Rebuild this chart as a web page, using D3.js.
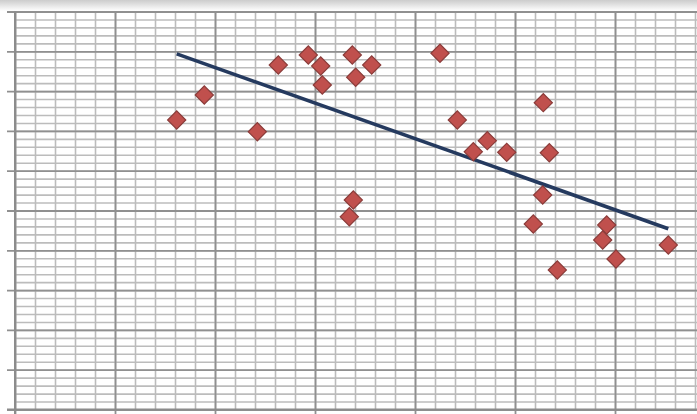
<!DOCTYPE html>
<html>
<head>
<meta charset="utf-8">
<script src="https://cdn.jsdelivr.net/npm/d3@7"></script>
<style>
  html, body { margin: 0; padding: 0; background: #fff; }
  svg { display: block; }
</style>
</head>
<body>
<svg id="chart" width="697" height="414"></svg>
<script>
// Data
const xValues = [1.617, 1.893, 2.423, 2.633, 2.933, 3.057, 3.073, 3.373, 3.407, 3.567,
                 3.383, 3.343, 4.25, 4.423, 4.583, 4.723, 4.917, 5.283, 5.343, 5.277,
                 5.183, 5.423, 5.917, 5.877, 6.01, 6.533];
const yValues = [7.274, 7.902, 6.980, 8.656, 8.907, 8.631, 8.153, 8.907, 8.347, 8.656,
                 5.264, 4.844, 8.950, 7.274, 6.477, 6.754, 6.462, 7.709, 6.452, 5.389,
                 4.661, 3.505, 4.636, 4.259, 3.781, 4.133];
const xMajorTicks = [0, 1, 2, 3, 4, 5, 6, 7];
const yMajorTicks = [0, 1, 2, 3, 4, 5, 6, 7, 8, 9, 10];
const xMinorTicks = d3.range(0, 7.001, 0.2);
const yMinorTicks = d3.range(0, 10.001, 0.2);

(function () {
const svg = d3.select("#chart");
const W = 697, H = 414;

// top shading
const defs = svg.append("defs");
const grad = defs.append("linearGradient").attr("id", "topShade")
  .attr("x1", 0).attr("y1", 0).attr("x2", 0).attr("y2", 1);
grad.append("stop").attr("offset", "0%").attr("stop-color", "#cccccc");
grad.append("stop").attr("offset", "100%").attr("stop-color", "#ffffff");
svg.append("rect").attr("x", 0).attr("y", 0).attr("width", W).attr("height", 11)
  .attr("fill", "url(#topShade)");

const x = d3.scaleLinear().domain([0, 7]).range([15, 715]);
const y = d3.scaleLinear().domain([0, 10]).range([409.5, 11.5]);
const pTop = y(10), pBottom = y(0), pLeft = x(0), pRight = x(7);

// minor gridlines
const gMinorY = svg.append("g").attr("transform", `translate(${pLeft},0)`)
  .call(d3.axisLeft(y).tickValues(yMinorTicks).tickSize(-(pRight - pLeft)).tickFormat(""));
gMinorY.select(".domain").remove();
gMinorY.selectAll(".tick line").attr("stroke", "#bcbcbc").attr("stroke-width", 1.6);

const gMinorX = svg.append("g").attr("transform", `translate(0,${pBottom})`)
  .call(d3.axisBottom(x).tickValues(xMinorTicks).tickSize(-(pBottom - pTop)).tickFormat(""));
gMinorX.select(".domain").remove();
gMinorX.selectAll(".tick line").attr("stroke", "#bcbcbc").attr("stroke-width", 1.6);

// major gridlines (with outer tick marks)
const gMajorY = svg.append("g").attr("transform", `translate(${pLeft},0)`)
  .call(d3.axisLeft(y).tickValues(yMajorTicks).tickSizeInner(-(pRight - pLeft)).tickSizeOuter(0).tickFormat(""));
gMajorY.select(".domain").remove();
gMajorY.selectAll(".tick line").attr("stroke", "#909090").attr("stroke-width", 1.8).attr("x1", -8);

const gMajorX = svg.append("g").attr("transform", `translate(0,${pBottom})`)
  .call(d3.axisBottom(x).tickValues(xMajorTicks).tickSizeInner(-(pBottom - pTop)).tickSizeOuter(0).tickFormat(""));
gMajorX.select(".domain").remove();
gMajorX.selectAll(".tick line").attr("stroke", "#909090").attr("stroke-width", 1.8).attr("y1", 6);

// axis lines
svg.append("line").attr("x1", pLeft).attr("x2", pLeft).attr("y1", pTop).attr("y2", pBottom + 6)
  .attr("stroke", "#8c8c8c").attr("stroke-width", 2);
svg.append("line").attr("x1", pLeft - 8).attr("x2", pRight).attr("y1", pBottom).attr("y2", pBottom)
  .attr("stroke", "#8c8c8c").attr("stroke-width", 2);

// points
const pts = xValues.map((v, i) => ({ x: v, y: yValues[i] }));

// linear trend line (least squares)
const mx = d3.mean(pts, d => d.x), my = d3.mean(pts, d => d.y);
const sxy = d3.sum(pts, d => (d.x - mx) * (d.y - my));
const sxx = d3.sum(pts, d => (d.x - mx) * (d.x - mx));
const slope = sxy / sxx, intercept = my - slope * mx;
const [xmin, xmax] = d3.extent(pts, d => d.x);
const trend = [{ x: xmin, y: intercept + slope * xmin }, { x: xmax, y: intercept + slope * xmax }];

svg.append("path").datum(trend)
  .attr("d", d3.line().x(d => x(d.x)).y(d => y(d.y)))
  .attr("fill", "none").attr("stroke", "#253a5f").attr("stroke-width", 3.6);

svg.append("g").selectAll("path").data(pts).join("path")
  .attr("d", d3.symbol().type(d3.symbolSquare).size(165))
  .attr("transform", d => `translate(${x(d.x)},${y(d.y)}) rotate(45)`)
  .attr("fill", "#c0504d").attr("stroke", "#8a3b39").attr("stroke-width", 1.2);
})();
</script>
</body>
</html>
